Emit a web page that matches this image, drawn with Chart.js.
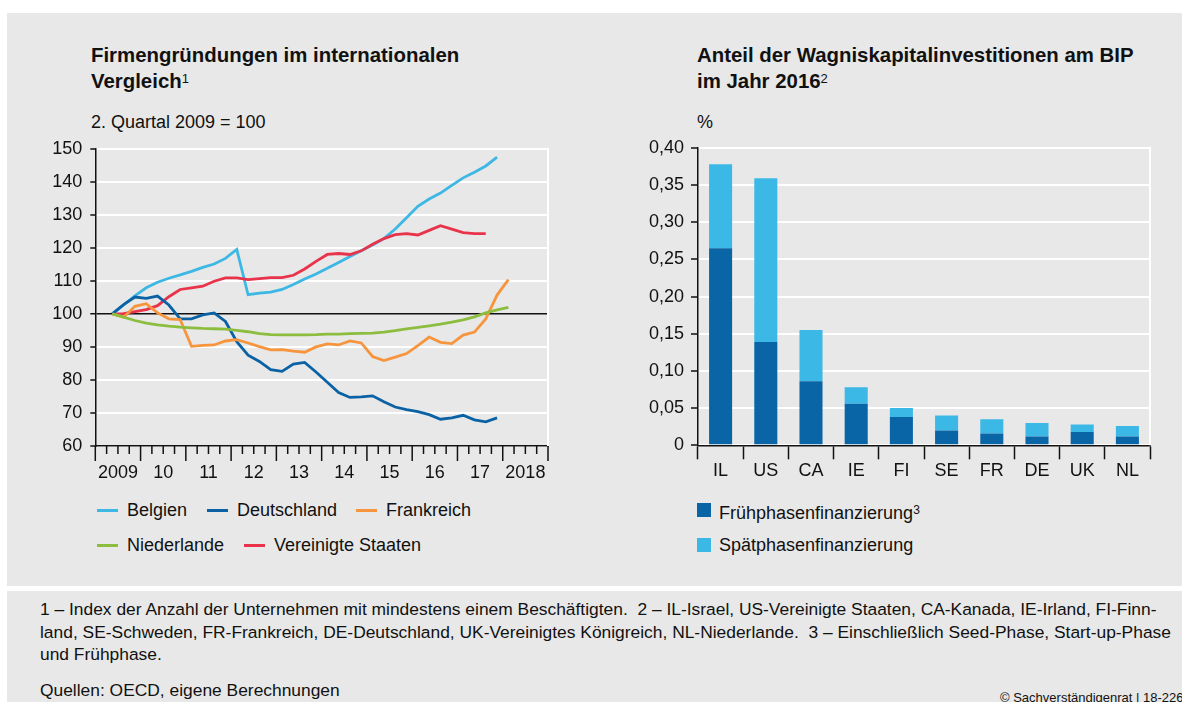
<!DOCTYPE html>
<html lang="de">
<head>
<meta charset="utf-8">
<script src="https://cdn.jsdelivr.net/npm/chart.js@4/dist/chart.umd.min.js"></script>
<style>
    body { margin: 0; width: 1182px; height: 702px; overflow: hidden; background: #fff; position: relative;
           font-family: 'Liberation Sans', Arial, sans-serif; color: #111; }
    .panel { position: absolute; background: #e8e8e8; }
    .abs { position: absolute; white-space: nowrap; }
    .title { font-weight: bold; font-size: 20.4px; line-height: 24px; }
    .sub { font-size: 18px; }
    .leg { font-size: 18px; line-height: 20px; }
    .sw-line { position: absolute; width: 21px; height: 3px; }
    .sw-box { position: absolute; width: 14px; height: 14px; }
    .note { font-size: 17.4px; line-height: 22.5px; }
    canvas { position: absolute; }
</style>
</head>
<body>
<div class="panel" style="left:7px;top:13px;width:1175px;height:573px"></div>
<div class="panel" style="left:7px;top:591px;width:1175px;height:111px"></div>

<div class="abs title" style="left:91px;top:43px">Firmengründungen im internationalen<br>Vergleich<sup style="font-size:13px;font-weight:normal;vertical-align:5px">1</sup></div>
<div class="abs sub" style="left:91px;top:112px">2. Quartal 2009 = 100</div>

<div class="abs title" style="left:697px;top:43px">Anteil der Wagniskapitalinvestitionen am BIP<br>im Jahr 2016<sup style="font-size:13px;font-weight:normal;vertical-align:5px">2</sup></div>
<div class="abs sub" style="left:697px;top:112px">%</div>

<div id="legLine"></div>
<div id="legBar"></div>

<canvas id="lineChart" style="left:30px;top:130px" width="530" height="350"></canvas>
<canvas id="barChart" style="left:620px;top:130px" width="550" height="350"></canvas>

<div class="abs note" style="left:40px;top:598px">1 – Index der Anzahl der Unternehmen mit mindestens einem Beschäftigten.&nbsp; 2 – IL-Israel, US-Vereinigte Staaten, CA-Kanada, IE-Irland, FI-Finn-<br>land, SE-Schweden, FR-Frankreich, DE-Deutschland, UK-Vereinigtes Königreich, NL-Niederlande.&nbsp; 3 – Einschließlich Seed-Phase, Start-up-Phase<br>und Frühphase.</div>
<div class="abs note" style="left:40px;top:679px">Quellen: OECD, eigene Berechnungen</div>
<div class="abs" style="left:1000px;top:690px;font-size:13px">© Sachverständigenrat | 18-226</div>

<script>
// quarters counted from Q1 2009 (= 0); points sit in the middle of their quarter
var startQuarter = 1;
var yearLabels = ['2009', '10', '11', '12', '13', '14', '15', '16', '17', '2018'];

var belgien = [100, 102.7, 105.5, 107.9, 109.6, 110.8, 111.8, 112.9, 114.1, 115.1, 116.8, 119.5,
    105.8, 106.3, 106.6, 107.4, 108.9, 110.6, 112.1, 113.8, 115.6, 117.4, 119.1, 120.9, 122.8,
    125.7, 129.1, 132.6, 134.8, 136.6, 138.9, 141.2, 142.9, 144.8, 147.5];
var deutschland = [100, 102.8, 105.1, 104.7, 105.4, 102.7, 98.5, 98.5, 99.7, 100.3, 97.7, 91.6,
    87.5, 85.6, 83.1, 82.6, 84.8, 85.3, 82.4, 79.3, 76.2, 74.7, 74.9, 75.2, 73.4,
    71.8, 71.0, 70.4, 69.5, 68.1, 68.5, 69.3, 67.9, 67.3, 68.5];
var frankreich = [100, 99.0, 102.3, 103.1, 100.3, 98.5, 98.3, 90.2, 90.5, 90.6, 91.8, 92.2,
    91.2, 90.1, 89.1, 89.2, 88.7, 88.4, 90.0, 90.9, 90.6, 91.8, 91.2, 87.1, 85.9,
    86.9, 88.0, 90.4, 93.0, 91.4, 91.0, 93.6, 94.5, 98.5, 105.7, 110.4];
var niederlande = [100, 99.0, 98.0, 97.2, 96.7, 96.3, 96.0, 95.8, 95.6, 95.5, 95.4, 95.0,
    94.6, 94.0, 93.75, 93.65, 93.65, 93.65, 93.7, 93.85, 93.9, 94.0, 94.1, 94.2, 94.5,
    94.95, 95.5, 95.9, 96.4, 96.9, 97.5, 98.2, 99.1, 100.3, 101.2, 102.0];
var usa = [100, 100.1, 100.7, 101.3, 102.5, 105.2, 107.4, 107.9, 108.4, 109.9, 110.9, 110.9,
    110.4, 110.7, 111.0, 111.0, 111.7, 113.6, 115.9, 118.0, 118.3, 118.0, 119.1, 121.1, 122.8,
    124.0, 124.3, 123.9, 125.3, 126.7, 125.7, 124.6, 124.3, 124.3];
var yTicksLine = [60, 70, 80, 90, 100, 110, 120, 130, 140, 150];

var countries = ['IL', 'US', 'CA', 'IE', 'FI', 'SE', 'FR', 'DE', 'UK', 'NL'];
var fruehphase = [0.265, 0.139, 0.086, 0.056, 0.038, 0.020, 0.016, 0.012, 0.018, 0.012];
var spaetphase = [0.113, 0.220, 0.069, 0.022, 0.012, 0.020, 0.019, 0.018, 0.010, 0.014];

var cBelgien = '#3db7e4', cDeutschland = '#0a62a4', cFrankreich = '#f6953e',
    cNiederlande = '#8cbd3f', cUsa = '#e8334b';

function toPoints(arr) {
    return arr.map(function (v, i) { return { x: startQuarter + i + 0.5, y: v }; });
}

var font = { family: "'Liberation Sans', Arial, sans-serif", size: 18 };
Chart.defaults.color = '#111';
Chart.defaults.font = font;

// white line on the right edge of the plot area
var rightEdge = {
    id: 'rightEdge',
    beforeDatasetsDraw: function (chart) {
        var a = chart.chartArea, c = chart.ctx;
        c.save();
        c.strokeStyle = '#fff';
        c.lineWidth = 2;
        c.beginPath();
        c.moveTo(a.right, a.top - 1);
        c.lineTo(a.right, a.bottom);
        c.stroke();
        c.restore();
    }
};

// quarter ticks, longer at the year boundaries
var quarterTicks = {
    id: 'quarterTicks',
    afterDraw: function (chart) {
        var x = chart.scales.x, c = chart.ctx, b = chart.chartArea.bottom;
        c.save();
        c.strokeStyle = '#111';
        c.lineWidth = 1.5;
        for (var q = 0; q <= 40; q++) {
            var px = x.getPixelForValue(q);
            c.beginPath();
            c.moveTo(px, b);
            c.lineTo(px, b + (q % 4 === 0 ? 15 : 8));
            c.stroke();
        }
        c.restore();
    }
};

function series(label, data, color) {
    return { label: label, data: toPoints(data), borderColor: color, backgroundColor: color,
             borderWidth: 2.8, pointRadius: 0, tension: 0, fill: false };
}

new Chart(document.getElementById('lineChart'), {
    type: 'line',
    data: {
        datasets: [
            series('Niederlande', niederlande, cNiederlande),
            series('Frankreich', frankreich, cFrankreich),
            series('Deutschland', deutschland, cDeutschland),
            series('Vereinigte Staaten', usa, cUsa),
            series('Belgien', belgien, cBelgien)
        ]
    },
    options: {
        responsive: false,
        animation: false,
        layout: { padding: { top: 14, right: 12, left: 0, bottom: 0 } },
        plugins: { legend: { display: false }, tooltip: { enabled: false } },
        scales: {
            x: {
                type: 'linear', min: 0, max: 40,
                afterFit: function (s) { s.height = 34; },
                afterBuildTicks: function (s) {
                    s.ticks = [];
                    for (var q = 0; q <= 40; q++) s.ticks.push({ value: q });
                },
                ticks: {
                    autoSkip: false, maxRotation: 0, padding: 1, font: font,
                    callback: function (v) { return v % 4 === 2 ? yearLabels[(v - 2) / 4] : ''; }
                },
                grid: { drawOnChartArea: false, drawTicks: true, tickLength: 15, tickColor: 'rgba(0,0,0,0)' },
                border: { display: true, color: '#111', width: 1.5 }
            },
            y: {
                min: 60, max: 150,
                afterFit: function (s) { s.width = 65.3; },
                afterBuildTicks: function (s) {
                    s.ticks = yTicksLine.map(function (v) { return { value: v }; });
                },
                ticks: { padding: 8, font: font },
                grid: {
                    color: function (ctx) { return ctx.tick && ctx.tick.value === 100 ? '#111' : '#fff'; },
                    lineWidth: function (ctx) { return ctx.tick && ctx.tick.value === 100 ? 1.5 : 2; },
                    tickColor: '#111', tickLength: 5, tickWidth: 1.5
                },
                border: { display: true, color: '#111', width: 1.5 }
            }
        }
    },
    plugins: [rightEdge, quarterTicks]
});

new Chart(document.getElementById('barChart'), {
    type: 'bar',
    data: {
        labels: countries,
        datasets: [
            { label: 'Frühphasenfinanzierung', data: fruehphase, backgroundColor: '#0a65a7',
              barPercentage: 0.51, categoryPercentage: 1 },
            { label: 'Spätphasenfinanzierung', data: spaetphase, backgroundColor: '#3cb8e6',
              barPercentage: 0.51, categoryPercentage: 1 }
        ]
    },
    options: {
        responsive: false,
        animation: false,
        layout: { padding: { top: 14, right: 20, left: 0, bottom: 0 } },
        plugins: { legend: { display: false }, tooltip: { enabled: false } },
        scales: {
            x: {
                stacked: true,
                afterFit: function (s) { s.height = 34.7; },
                ticks: { padding: 1, font: font },
                grid: { offset: true, drawOnChartArea: false, tickLength: 14, tickColor: '#111', tickWidth: 1.5 },
                border: { display: true, color: '#111', width: 1.5 }
            },
            y: {
                stacked: true, min: 0, max: 0.4,
                afterFit: function (s) { s.width = 78; },
                ticks: {
                    stepSize: 0.05, padding: 7, font: font,
                    callback: function (v) { return v === 0 ? '0' : v.toFixed(2).replace('.', ','); }
                },
                grid: { color: '#fff', lineWidth: 2, tickColor: '#111', tickLength: 7, tickWidth: 1.5 },
                border: { display: true, color: '#111', width: 1.5 }
            }
        }
    },
    plugins: [rightEdge]
});

// legends
var lineLegend = [
    ['Belgien', cBelgien, 97, 500], ['Deutschland', cDeutschland, 207, 500], ['Frankreich', cFrankreich, 356, 500],
    ['Niederlande', cNiederlande, 97, 535], ['Vereinigte Staaten', cUsa, 244, 535]
];
var html = '';
lineLegend.forEach(function (l) {
    html += '<div class="sw-line" style="left:' + l[2] + 'px;top:' + (l[3] + 9) + 'px;background:' + l[1] + '"></div>';
    html += '<div class="abs leg" style="left:' + (l[2] + 30) + 'px;top:' + l[3] + 'px">' + l[0] + '</div>';
});
document.getElementById('legLine').innerHTML = html;

var barLegend = [
    ['Frühphasenfinanzierung<sup style="font-size:12px;vertical-align:5px">3</sup>', '#0a65a7', 500],
    ['Spätphasenfinanzierung', '#3cb8e6', 535]
];
html = '';
barLegend.forEach(function (l) {
    html += '<div class="sw-box" style="left:697px;top:' + (l[2] + 3) + 'px;background:' + l[1] + '"></div>';
    html += '<div class="abs leg" style="left:719px;top:' + l[2] + 'px">' + l[0] + '</div>';
});
document.getElementById('legBar').innerHTML = html;
</script>
</body>
</html>
